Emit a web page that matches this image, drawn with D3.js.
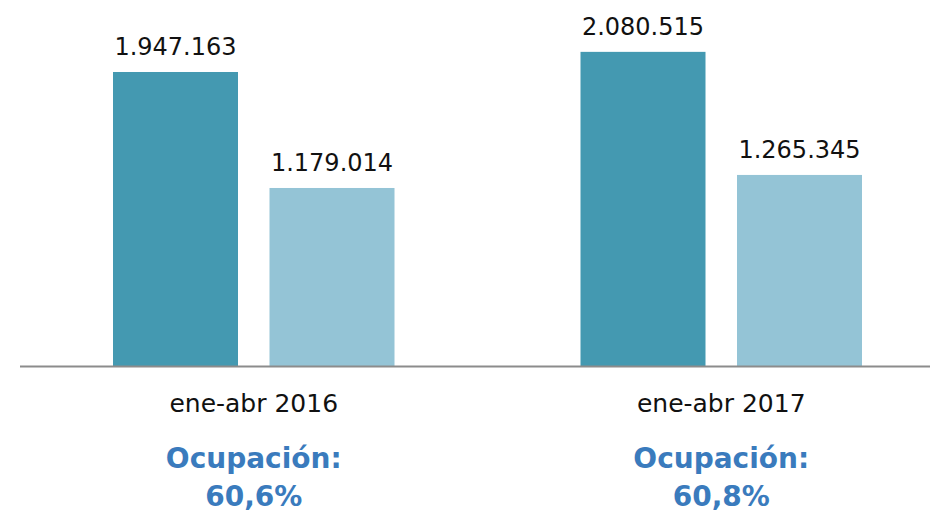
<!DOCTYPE html>
<html>
<head>
<meta charset="utf-8">
<script src="https://cdn.jsdelivr.net/npm/d3@7"></script>
<style>
  html, body { margin: 0; padding: 0; background: #fff; }
  svg { display: block; }
  text { font-family: "DejaVu Sans", sans-serif; }
</style>
</head>
<body>
<div id="chart"></div>
<script>
// periodos y series
const periods = ["ene-abr 2016", "ene-abr 2017"];
const series = ["oferta", "demanda"];
const ofertaValues = [1947163, 2080515];
const demandaValues = [1179014, 1265345];
const occupancyLabels = ["60,6%", "60,8%"];

const width = 930, height = 512;
const baseY = 366;

const svg = d3.select("#chart").append("svg")
    .attr("width", width)
    .attr("height", height);

const x0 = d3.scaleBand().domain(periods).range([20, 955]);
const x1 = d3.scaleBand().domain(series).range([93, 374.5]).paddingInner(0.2013);
const y = d3.scaleLinear().domain([0, 2424000]).range([baseY, 0]);

const colors = { oferta: "#4499b1", demanda: "#94c4d6" };

const rows = periods.map((p, i) => ({
    period: p,
    values: [
        { key: "oferta", value: ofertaValues[i] },
        { key: "demanda", value: demandaValues[i] }
    ]
}));

const fmt = v => d3.format(",")(v).replace(/,/g, ".");

const g = svg.selectAll("g.group")
    .data(rows)
    .enter().append("g")
    .attr("class", "group")
    .attr("transform", d => `translate(${x0(d.period)},0)`);

g.selectAll("rect")
    .data(d => d.values)
    .enter().append("rect")
    .attr("x", d => x1(d.key))
    .attr("width", x1.bandwidth())
    .attr("y", d => y(d.value))
    .attr("height", d => baseY - y(d.value))
    .attr("fill", d => colors[d.key]);

g.selectAll("text.val")
    .data(d => d.values)
    .enter().append("text")
    .attr("class", "val")
    .attr("x", d => x1(d.key) + x1.bandwidth() / 2)
    .attr("y", d => y(d.value) - 17)
    .attr("text-anchor", "middle")
    .attr("font-size", 24)
    .attr("fill", "#111")
    .text(d => fmt(d.value));

// eje base
svg.append("line")
    .attr("x1", 20).attr("x2", 955)
    .attr("y1", baseY + 0.5).attr("y2", baseY + 0.5)
    .attr("stroke", "#8c8c8c")
    .attr("stroke-width", 2);

g.append("text")
    .attr("x", x0.bandwidth() / 2)
    .attr("y", 412)
    .attr("text-anchor", "middle")
    .attr("font-size", 25)
    .attr("fill", "#111")
    .text(d => d.period);

g.append("text")
    .attr("x", x0.bandwidth() / 2)
    .attr("y", 468)
    .attr("text-anchor", "middle")
    .attr("font-size", 28)
    .attr("font-weight", "bold")
    .attr("fill", "#3a7bbd")
    .text("Ocupación:");

g.append("text")
    .attr("x", x0.bandwidth() / 2)
    .attr("y", 506)
    .attr("text-anchor", "middle")
    .attr("font-size", 28)
    .attr("font-weight", "bold")
    .attr("fill", "#3a7bbd")
    .text((d, i) => occupancyLabels[i]);
</script>
</body>
</html>
